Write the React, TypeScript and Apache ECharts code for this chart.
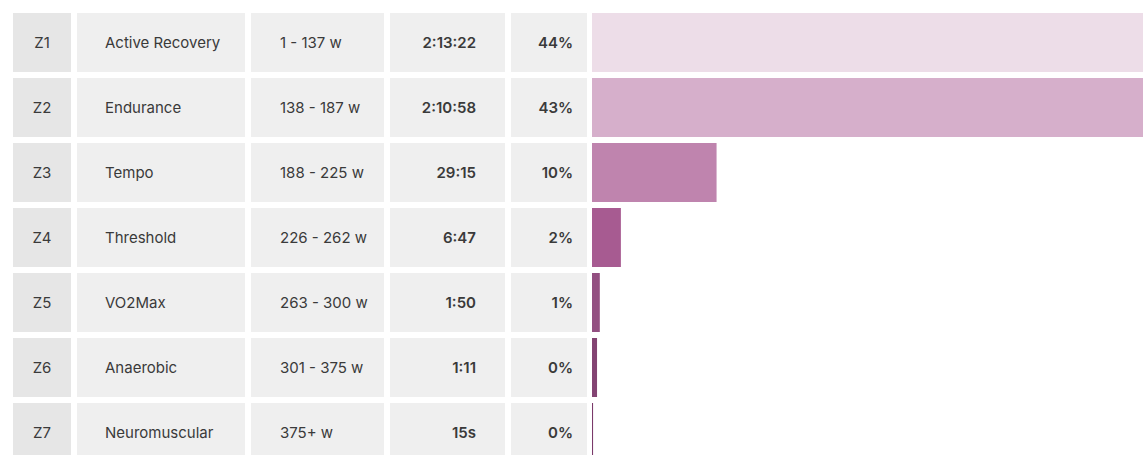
import React, { useEffect, useRef } from "react";
import * as echarts from "echarts";

const zones = ["Z1", "Z2", "Z3", "Z4", "Z5", "Z6", "Z7"];
const zoneNames = ["Active Recovery", "Endurance", "Tempo", "Threshold", "VO2Max", "Anaerobic", "Neuromuscular"];
const powerRanges = ["1 - 137 w", "138 - 187 w", "188 - 225 w", "226 - 262 w", "263 - 300 w", "301 - 375 w", "375+ w"];
const timeLabels = ["2:13:22", "2:10:58", "29:15", "6:47", "1:50", "1:11", "15s"];
const timeSeconds = [8002, 7858, 1755, 407, 110, 71, 15];
const percentLabels = ["44%", "43%", "10%", "2%", "1%", "0%", "0%"];
const barColors = ["#eddde8", "#d6afcb", "#bf84ae", "#a75b91", "#934f81", "#834372", "#7a3a6a"];

export default function App() {
  const ref = useRef<HTMLDivElement>(null);
  useEffect(() => {
    if (!ref.current) return;
    const chart = echarts.init(ref.current, undefined, { renderer: "svg" });
    const font = "Inter, 'Noto Sans', sans-serif";
    const textColor = "#3a3a3a";
    const cellH = 59;
    chart.setOption({
      animation: false,
      grid: { left: 592, top: 10, right: 0, bottom: 0, containLabel: false },
      xAxis: { type: "value", min: 0, max: "dataMax", show: false },
      yAxis: { type: "category", data: zones, inverse: true, show: false },
      series: [
        {
          type: "custom",
          clip: false,
          silent: true,
          data: zones.map((z) => [0, z]),
          renderItem: (params: any, api: any) => {
            const i = params.dataIndex;
            const cy = api.coord([0, api.value(1)])[1];
            const top = cy - cellH / 2;
            const cells = [
              { x: 13, w: 58, c: "#e6e6e6" },
              { x: 77, w: 168, c: "#efefef" },
              { x: 251, w: 133, c: "#efefef" },
              { x: 390, w: 115, c: "#efefef" },
              { x: 511, w: 76, c: "#efefef" },
            ];
            const children: any[] = cells.map((c) => ({
              type: "rect",
              shape: { x: c.x, y: top, width: c.w, height: cellH },
              style: { fill: c.c },
            }));
            const txt = (text: string, x: number, align: string, weight: number) => ({
              type: "text",
              x,
              y: cy,
              style: {
                text,
                fill: textColor,
                font: `${weight} 15px ${font}`,
                textAlign: align,
                textVerticalAlign: "middle",
              },
            });
            children.push(txt(zones[i], 42, "center", 400));
            children.push(txt(zoneNames[i], 105, "left", 400));
            children.push(txt(powerRanges[i], 280, "left", 400));
            children.push(txt(timeLabels[i], 476, "right", 600));
            children.push(txt(percentLabels[i], 573, "right", 600));
            return { type: "group", children };
          },
        },
        {
          type: "bar",
          barWidth: cellH,
          data: timeSeconds.map((v, i) => ({ value: v, itemStyle: { color: barColors[i] } })),
        },
      ],
    });
    return () => chart.dispose();
  }, []);
  return (
    <div style={{ position: "fixed", left: 0, top: 0, width: 1143, height: 455, overflow: "hidden", background: "#ffffff" }}>
      <div ref={ref} style={{ width: 1160, height: 465 }} />
    </div>
  );
}
